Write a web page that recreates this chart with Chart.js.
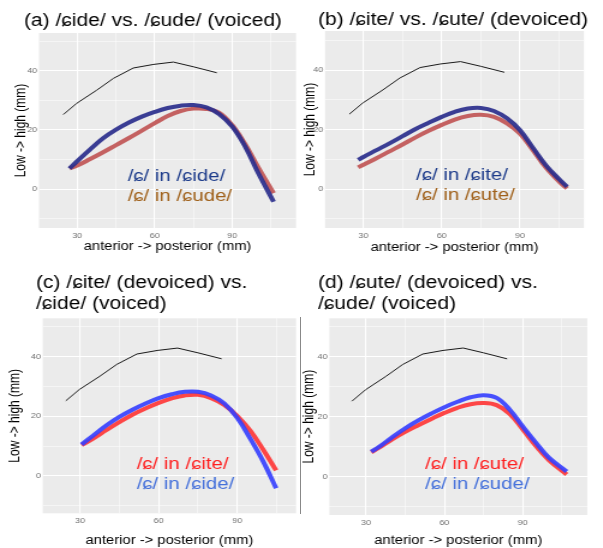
<!DOCTYPE html>
<html>
<head>
<meta charset="utf-8">
<script src="https://cdn.jsdelivr.net/npm/chart.js@4"></script>
<style>
  body { margin: 0; background: #fff; width: 603px; height: 548px; position: relative; overflow: hidden; }
  canvas { position: absolute; }
  #sep { position: absolute; left: 300px; top: 317px; width: 1px; height: 197px; background: #888; }
</style>
</head>
<body>
<canvas id="pa" width="250" height="270" style="left:0px;top:0px;width:300px;height:270px"></canvas>
<canvas id="pb" width="252" height="270" style="left:300px;top:0px;width:303px;height:270px"></canvas>
<canvas id="pc" width="250" height="278" style="left:0px;top:270px;width:300px;height:278px"></canvas>
<canvas id="pd" width="252" height="278" style="left:300px;top:270px;width:303px;height:278px"></canvas>
<div id="sep"></div>
<script>
// palate trace, same in every panel
var palateX = [24.6, 29.8, 37.5, 44, 51.7, 59.5, 67.2, 75, 84];
var palateY = [25.2, 29, 33.4, 37.4, 40.9, 42.1, 42.9, 41.3, 39.3];

// (a) /ɕide/ vs /ɕude/
var aX   = [27, 30, 35, 40, 45, 50, 55, 60, 65, 70, 75, 80, 85, 90, 95, 100, 106];
var aIde = [7, 9.5, 13.5, 17.2, 20.1, 22.5, 24.5, 26.1, 27.4, 28.2, 28.4, 27.6, 25.3, 21.1, 14.4, 5.6, -4.2];
var aUde = [7, 8, 10.2, 12.5, 14.9, 17.3, 19.8, 22.3, 24.7, 26.4, 27.2, 27.1, 25.8, 21.6, 15.2, 7.5, -1.3];

// (b) /ɕite/ vs /ɕute/
var bX   = [28, 30, 35, 40, 45, 50, 55, 60, 65, 70, 75, 80, 85, 90, 95, 100, 105, 108];
var bIte = [9.8, 10.8, 13.1, 15.4, 17.8, 20.2, 22.3, 24.3, 26, 27.1, 27.3, 26.3, 23.8, 19.8, 13.8, 7.9, 3.3, 0.8];
var bUte = [7.3, 8.2, 10.4, 12.7, 15, 17.4, 19.6, 21.6, 23.4, 24.6, 25, 24.3, 22.1, 18.6, 13, 7.1, 2.5, 0.2];

// (c) /ɕite/ vs /ɕide/
var cX   = [30.6, 35, 40, 45, 50, 55, 60, 65, 70, 75, 80, 85, 90, 95, 100, 104.8];
var cIte = [10.3, 12.5, 15.3, 18, 20.5, 22.6, 24.5, 26, 27, 27.2, 26.1, 23.8, 20.1, 15.1, 8.6, 1.8];
var cIde = [10.5, 13.5, 16.9, 19.8, 22.2, 24.3, 26.1, 27.4, 28.2, 28.2, 27, 24.3, 19.4, 12.4, 4.6, -4.2];

// (d) /ɕute/ vs /ɕude/
var dX   = [32, 35, 40, 45, 50, 55, 60, 65, 70, 75, 80, 85, 90, 95, 100, 106.8];
var dUte = [8.2, 9.7, 12.5, 15, 17.2, 19.3, 21.3, 23, 24.2, 24.6, 23.9, 21, 15.8, 10.3, 5.6, 0.8];
var dUde = [8.4, 10, 13.2, 16.2, 18.8, 21.1, 23.2, 25, 26.5, 27.2, 26.3, 22.4, 16.8, 11.4, 6.4, 1.8];

var xTicks = [15, 30, 45, 60, 75, 90, 105];
var yTicks = [-10, 0, 10, 20, 30, 40, 50];

var FONT = "'Liberation Sans', Arial, 'DejaVu Sans', sans-serif";

function toPoints(xs, ys) {
  return xs.map(function (x, i) { return { x: x, y: ys[i] }; });
}

function tongue(xs, ys, color) {
  return {
    data: toPoints(xs, ys),
    showLine: true,
    borderColor: color,
    borderWidth: 4,
    pointRadius: 0,
    tension: 0.4,
    fill: false
  };
}

function drawPanel(p) {
  var canvas = document.getElementById(p.id);
  var W = canvas.width, H = canvas.height;

  var panelText = {
    id: 'panelText',
    beforeDraw: function (chart) {
      var a = chart.chartArea, c = chart.ctx;
      c.save();
      c.fillStyle = '#EBEBEB';
      c.fillRect(a.left, a.top, a.right - a.left, a.bottom - a.top);
      c.restore();
    },
    afterDatasetsDraw: function (chart) {
      var c = chart.ctx;
      c.save();
      c.textBaseline = 'middle';
      c.textAlign = 'left';
      c.font = '17.5px ' + FONT;
      c.fillStyle = '#000';
      p.title.forEach(function (t, i) { c.fillText(t, p.titleX, p.titleY[i]); });
      c.font = '17px ' + FONT;
      p.labels.forEach(function (l, i) {
        c.fillStyle = l.color;
        c.fillText(l.text, p.labelX, p.labelY[i]);
      });
      c.restore();
    }
  };

  new Chart(canvas, {
    type: 'scatter',
    data: {
      datasets: [
        { data: toPoints(palateX, palateY), showLine: true, borderColor: '#1a1a1a', borderWidth: 1, pointRadius: 0 },
        tongue(p.xs, p.blue, p.blueColor),
        tongue(p.xs, p.red, p.redColor)
      ]
    },
    options: {
      responsive: false,
      animation: false,
      layout: { padding: { left: 0, right: W - p.area[1], top: p.area[2], bottom: 0 } },
      plugins: { legend: { display: false }, tooltip: { enabled: false } },
      scales: {
        x: {
          type: 'linear',
          min: p.xr[0], max: p.xr[1],
          afterFit: function (s) { s.height = H - p.area[3]; },
          afterBuildTicks: function (s) {
            s.ticks = xTicks.filter(function (v) { return v >= p.xr[0] && v <= p.xr[1]; })
                            .map(function (v) { return { value: v }; });
          },
          ticks: {
            autoSkip: false, maxRotation: 0, padding: 3,
            color: '#707070', font: { size: 7.5, family: FONT },
            callback: function (v) { return v % 30 === 0 ? v : ''; }
          },
          grid: {
            color: '#ffffff', drawTicks: false,
            lineWidth: function (ctx) { return ctx.tick && ctx.tick.value % 30 === 0 ? 1.1 : 0.5; }
          },
          border: { display: false },
          title: {
            display: true, text: 'anterior -> posterior (mm)', color: '#000',
            font: { size: 12.3, family: FONT }, padding: { top: 0, bottom: p.xPad }
          }
        },
        y: {
          type: 'linear',
          min: p.yr[0], max: p.yr[1],
          afterFit: function (s) { s.width = p.area[0]; },
          afterBuildTicks: function (s) {
            s.ticks = yTicks.filter(function (v) { return v >= p.yr[0] && v <= p.yr[1]; })
                            .map(function (v) { return { value: v }; });
          },
          ticks: {
            autoSkip: false, padding: 1.5,
            color: '#707070', font: { size: 7.5, family: FONT },
            callback: function (v) { return v % 20 === 0 ? v : ''; }
          },
          grid: {
            color: '#ffffff', drawTicks: false,
            lineWidth: function (ctx) { return ctx.tick && ctx.tick.value % 20 === 0 ? 1.1 : 0.5; }
          },
          border: { display: false },
          title: {
            display: true, text: 'Low -> high (mm)', color: '#000',
            font: { size: 12, family: FONT }, padding: { top: p.yPad, bottom: 0 }
          }
        }
      }
    },
    plugins: [panelText]
  });
}

var navy = '#1B3A8A', brown = '#A0611B', red = '#FF1F1F', royal = '#4470DB';
var lineBlueDark = 'rgba(42,46,140,0.92)', lineRedDark = 'rgba(192,82,82,0.9)';
var lineBlue = 'rgba(52,62,255,0.9)', lineRed = 'rgba(255,52,52,0.9)';

drawPanel({
  id: 'pa', xs: aX, blue: aIde, red: aUde, blueColor: lineBlueDark, redColor: lineRedDark,
  xr: [15.2, 114.7], yr: [-13.05, 52.7], area: [32.5, 246.7, 33, 228],
  xPad: 15.6, yPad: 10,
  title: ['(a) /ɕide/ vs. /ɕude/ (voiced)'], titleX: 20, titleY: [21],
  labels: [{ text: '/ɕ/ in /ɕide/', color: navy }, { text: '/ɕ/ in /ɕude/', color: brown }],
  labelX: 106.4, labelY: [176, 196.5]
});
drawPanel({
  id: 'pb', xs: bX, blue: bIte, red: bUte, blueColor: lineBlueDark, redColor: lineRedDark,
  xr: [15.3, 114.5], yr: [-13.1, 53.2], area: [20.8, 236.2, 31, 228],
  xPad: 15.1, yPad: 1.2,
  title: ['(b) /ɕite/ vs. /ɕute/ (devoiced)'], titleX: 15, titleY: [20.5],
  labels: [{ text: '/ɕ/ in /ɕite/', color: navy }, { text: '/ɕ/ in /ɕute/', color: brown }],
  labelX: 96.5, labelY: [175, 195.5]
});
drawPanel({
  id: 'pc', xs: cX, blue: cIde, red: cIte, blueColor: lineBlue, redColor: lineRed,
  xr: [15.8, 112.4], yr: [-12.6, 52.9], area: [35.6, 246.7, 48.3, 243.3],
  xPad: 0.5, yPad: 5,
  title: ['(c) /ɕite/ (devoiced) vs.', '/ɕide/ (voiced)'], titleX: 30, titleY: [13.3, 33.8],
  labels: [{ text: '/ɕ/ in /ɕite/', color: red }, { text: '/ɕ/ in /ɕide/', color: royal }],
  labelX: 113.9, labelY: [194, 214.7]
});
drawPanel({
  id: 'pd', xs: dX, blue: dUde, red: dUte, blueColor: lineBlue, redColor: lineRed,
  xr: [15.95, 114.7], yr: [-12.7, 52.8], area: [24.4, 238.9, 48.3, 245],
  xPad: 0, yPad: 0,
  title: ['(d) /ɕute/ (devoiced) vs.', '/ɕude/ (voiced)'], titleX: 15, titleY: [13.3, 33.8],
  labels: [{ text: '/ɕ/ in /ɕute/', color: red }, { text: '/ɕ/ in /ɕude/', color: royal }],
  labelX: 104, labelY: [194, 214.5]
});
</script>
</body>
</html>
